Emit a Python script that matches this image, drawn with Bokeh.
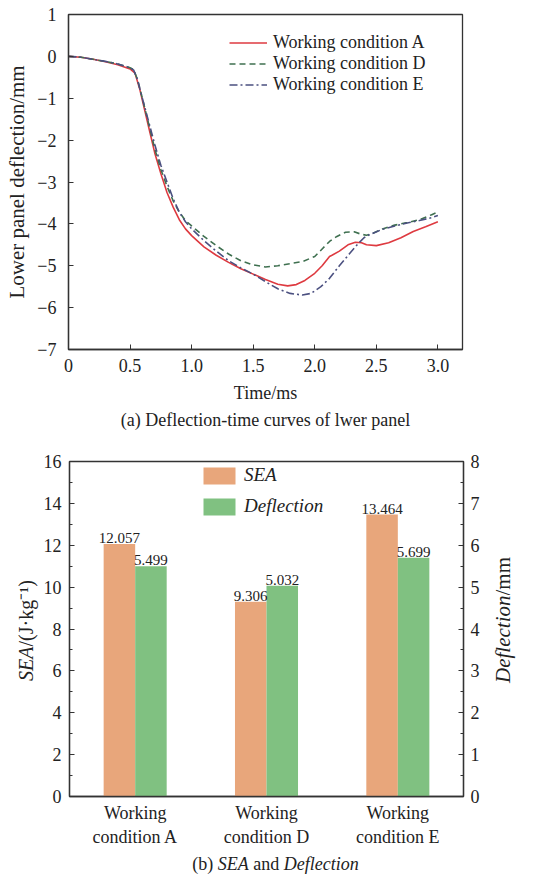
from bokeh.plotting import figure
from bokeh.models import (Range1d, LinearAxis, FixedTicker, Legend, LegendItem,
                          ColumnDataSource, Title)
from bokeh.core.properties import value
from bokeh.layouts import column, row
from bokeh.embed import file_html
from bokeh.resources import INLINE

FONT = "Liberation Serif"

# ---------------- data: (a) deflection-time curves ----------------
t_A = [0, 0.1, 0.2, 0.3, 0.4, 0.5, 0.54, 0.58, 0.62, 0.66, 0.70, 0.75, 0.80, 0.85, 0.90,
       0.95, 1.0, 1.1, 1.2, 1.3, 1.4, 1.5, 1.6, 1.7, 1.78, 1.85, 1.92, 2.0, 2.06, 2.12,
       2.14, 2.2, 2.27, 2.33, 2.38, 2.42, 2.5, 2.6, 2.7, 2.8, 2.9, 3.0]
d_A = [0, -0.02, -0.07, -0.13, -0.2, -0.3, -0.4, -0.8, -1.3, -1.8, -2.3, -2.8, -3.25, -3.6,
       -3.9, -4.12, -4.28, -4.55, -4.75, -4.92, -5.07, -5.2, -5.33, -5.44, -5.48, -5.45,
       -5.35, -5.18, -5.0, -4.78, -4.75, -4.65, -4.5, -4.44, -4.45, -4.5, -4.52, -4.45,
       -4.33, -4.18, -4.07, -3.95]

t_D = [0, 0.1, 0.2, 0.3, 0.4, 0.5, 0.53, 0.56, 0.6, 0.65, 0.7, 0.75, 0.8, 0.85, 0.9, 0.95,
       1.0, 1.1, 1.2, 1.3, 1.4, 1.5, 1.6, 1.7, 1.8, 1.9, 2.0, 2.06, 2.12, 2.18, 2.25, 2.32,
       2.38, 2.42, 2.47, 2.55, 2.65, 2.75, 2.85, 2.95, 3.0]
d_D = [0, -0.02, -0.07, -0.12, -0.18, -0.27, -0.32, -0.55, -1.0, -1.6, -2.2, -2.7, -3.1,
       -3.45, -3.72, -3.92, -4.05, -4.3, -4.52, -4.72, -4.88, -4.98, -5.03, -5.0, -4.95,
       -4.9, -4.78, -4.6, -4.42, -4.3, -4.2, -4.19, -4.25, -4.27, -4.23, -4.12, -4.03,
       -3.97, -3.9, -3.78, -3.72]

t_E = [0, 0.1, 0.2, 0.3, 0.4, 0.5, 0.53, 0.56, 0.6, 0.65, 0.7, 0.75, 0.8, 0.85, 0.9, 0.95,
       1.0, 1.1, 1.2, 1.3, 1.4, 1.5, 1.6, 1.7, 1.8, 1.9, 1.97, 2.05, 2.12, 2.2, 2.28, 2.35,
       2.4, 2.45, 2.55, 2.65, 2.75, 2.85, 2.95, 3.0]
d_E = [0, -0.02, -0.07, -0.12, -0.18, -0.27, -0.33, -0.55, -1.0, -1.55, -2.1, -2.6, -3.0,
       -3.4, -3.72, -3.95, -4.12, -4.4, -4.65, -4.88, -5.05, -5.2, -5.38, -5.55, -5.66,
       -5.7, -5.66, -5.5, -5.3, -5.0, -4.72, -4.48, -4.33, -4.25, -4.13, -4.05, -3.98,
       -3.92, -3.85, -3.8]

series_names = ["Working condition A", "Working condition D", "Working condition E"]
x_ticks_a = [0, 0.5, 1.0, 1.5, 2.0, 2.5, 3.0]
y_ticks_a = [-7, -6, -5, -4, -3, -2, -1, 0, 1]

# ---------------- data: (b) SEA and deflection ----------------
categories = ["Working\ncondition A", "Working\ncondition D", "Working\ncondition E"]
sea_values = [12.057, 9.306, 13.464]
defl_values = [5.499, 5.032, 5.699]
left_ticks_b = [0, 2, 4, 6, 8, 10, 12, 14, 16]
right_ticks_b = [0, 1, 2, 3, 4, 5, 6, 7, 8]

AX = "#333333"
TXT = "#222222"


def style_axis(ax, size="18px"):
    ax.axis_line_color = AX
    ax.axis_line_width = 1.3
    ax.major_tick_line_color = AX
    ax.minor_tick_line_color = AX
    ax.major_label_text_font = FONT
    ax.major_label_text_font_size = size
    ax.major_label_text_color = TXT
    ax.axis_label_text_font = FONT
    ax.axis_label_text_font_style = "normal"
    ax.axis_label_text_color = TXT
    ax.major_tick_out = 0
    ax.minor_tick_out = 0


def text_panel(w, h, border_left=0):
    """A bare figure (no axes, no frame outline) used only to carry title text."""
    f = figure(width=w, height=h, x_range=Range1d(0, 1), y_range=Range1d(0, 1),
               x_axis_type=None, y_axis_type=None, output_backend="svg",
               toolbar_location=None, min_border=0, min_border_left=border_left)
    f.outline_line_color = None
    f.xgrid.visible = False
    f.ygrid.visible = False
    f.background_fill_color = "white"
    f.border_fill_color = "white"
    return f


def side_title(f, text, align, italic=False, size="20px"):
    f.add_layout(Title(text=text, align=align, vertical_align="middle", standoff=0, offset=0,
                       text_font=FONT, text_font_size=size,
                       text_font_style="italic" if italic else "normal",
                       text_color=TXT), "left")


# ================= figure (a) =================
p1 = figure(width=550, height=440, x_range=Range1d(0, 3.2), y_range=Range1d(-7, 1),
            output_backend="svg", toolbar_location=None,
            min_border_left=68, min_border_right=88, min_border_top=14, min_border_bottom=91)
p1.xgrid.visible = False
p1.ygrid.visible = False
p1.outline_line_color = AX
p1.outline_line_width = 1.3
p1.background_fill_color = "white"
p1.border_fill_color = "white"

xa = p1.xaxis[0]
ya = p1.yaxis[0]
style_axis(xa)
style_axis(ya)
xa.ticker = FixedTicker(ticks=x_ticks_a, minor_ticks=[])
ya.ticker = FixedTicker(ticks=y_ticks_a, minor_ticks=[])
xa.major_tick_in = 5
ya.major_tick_in = 5
xa.major_label_overrides = {0: "0", 0.5: "0.5", 1: "1.0", 1.5: "1.5", 2: "2.0", 2.5: "2.5", 3: "3.0"}
ya.major_label_overrides = {v: (str(v) if v >= 0 else "\u2212" + str(-v)) for v in y_ticks_a}
xa.major_label_standoff = 9
ya.major_label_standoff = 12
xa.axis_label = "Time/ms"
xa.axis_label_text_font_size = "18px"
xa.axis_label_standoff = 8
ya.axis_label = "Lower panel deflection/mm"
ya.axis_label_text_font_size = "21px"
ya.axis_label_standoff = 5

rA = p1.line(t_A, d_A, line_color="#de3a40", line_width=1.6)
rD = p1.line(t_D, d_D, line_color="#3f7050", line_width=1.6, line_dash="6 4")
rE = p1.line(t_E, d_E, line_color="#4b5080", line_width=1.6, line_dash="8 3 2 3")

leg1 = Legend(items=[LegendItem(label=series_names[0], renderers=[rA]),
                     LegendItem(label=series_names[1], renderers=[rD]),
                     LegendItem(label=series_names[2], renderers=[rE])],
              location=(161, 254), padding=0, spacing=0, margin=0,
              glyph_width=38, glyph_height=21, label_height=21, label_standoff=6,
              border_line_alpha=0, background_fill_alpha=0,
              label_text_font=FONT, label_text_font_size="18px", label_text_color=TXT)
p1.add_layout(leg1)

p1.add_layout(Title(text="(a) Deflection-time curves of lwer panel", align="center",
                    text_font=FONT, text_font_size="18px", text_font_style="normal",
                    text_color=TXT, standoff=4), "below")

# ================= figure (b) =================
H2 = 409           # page rows 440..849
CAP_H = 877 - 440 - H2
LW2 = 40           # left title strip width
RW2 = 65           # right title strip width
p2 = figure(width=550 - LW2 - RW2, height=H2, x_range=Range1d(0, 3), y_range=Range1d(0, 16),
            output_backend="svg", toolbar_location=None,
            min_border_left=67 - LW2, min_border_right=(550 - RW2) - 463,
            min_border_top=21, min_border_bottom=50)
p2.xgrid.visible = False
p2.ygrid.visible = False
p2.outline_line_color = AX
p2.outline_line_width = 1.3
p2.background_fill_color = "white"
p2.border_fill_color = "white"
p2.extra_y_ranges = {"defl": Range1d(0, 8)}

xb = p2.xaxis[0]
yb = p2.yaxis[0]
style_axis(xb)
style_axis(yb)
cat_x = [0.5, 1.5, 2.5]
xb.ticker = FixedTicker(ticks=cat_x, minor_ticks=[])
xb.major_tick_in = 0
xb.major_label_overrides = {c: lab for c, lab in zip(cat_x, categories)}
xb.major_label_standoff = 6
yb.ticker = FixedTicker(ticks=left_ticks_b, minor_ticks=[1, 3, 5, 7, 9, 11, 13, 15])
yb.major_tick_in = 5
yb.minor_tick_in = 3
yb.major_label_standoff = 8
yb.axis_label = None

rax = LinearAxis(y_range_name="defl")
style_axis(rax)
rax.ticker = FixedTicker(ticks=right_ticks_b, minor_ticks=[0.5, 1.5, 2.5, 3.5, 4.5, 5.5, 6.5, 7.5])
rax.major_tick_in = 5
rax.minor_tick_in = 3
rax.major_label_standoff = 7
p2.add_layout(rax, "right")

bw = 0.24
src_sea = ColumnDataSource(dict(x=[c - bw / 2 for c in cat_x], top=sea_values,
                                lab=[f"{v:.3f}" for v in sea_values]))
src_defl = ColumnDataSource(dict(x=[c + bw / 2 for c in cat_x], top=defl_values,
                                 lab=[f"{v:.3f}" for v in defl_values]))
b1 = p2.vbar(x="x", top="top", width=bw, bottom=0, source=src_sea,
             fill_color="#e8a67b", line_color=None)
b2 = p2.vbar(x="x", top="top", width=bw, bottom=0, source=src_defl, y_range_name="defl",
             fill_color="#80c181", line_color=None)
p2.text(x="x", y="top", text="lab", source=src_sea, text_align="center",
        text_baseline="bottom", y_offset=-1, text_font=value(FONT),
        text_font_size="15px", text_color=TXT)
p2.text(x="x", y="top", text="lab", source=src_defl, y_range_name="defl",
        text_align="center", text_baseline="bottom", y_offset=-1,
        text_font=value(FONT), text_font_size="15px", text_color=TXT)

leg2 = Legend(items=[LegendItem(label="SEA", renderers=[b1]),
                     LegendItem(label="Deflection", renderers=[b2])],
              location=(130, 279), padding=0, spacing=9, margin=0,
              glyph_width=40, glyph_height=21, label_height=21, label_standoff=5,
              border_line_alpha=0, background_fill_alpha=0,
              label_text_font=FONT, label_text_font_style="italic",
              label_text_font_size="19px", label_text_color=TXT)
p2.add_layout(leg2)

# left axis title "SEA/(J·kg⁻¹)": two stacked strips meeting at page row 646
JL = 646 - 440
pL2u = text_panel(LW2, JL, border_left=37)
side_title(pL2u, "/(J\u00b7kg\u207b\u00b9)", "left")
pL2d = text_panel(LW2, H2 - JL, border_left=37)
side_title(pL2d, "SEA", "right", italic=True)

# right axis title "Deflection/mm": two stacked strips meeting at page row 595
JR = 595 - 440
pR2u = text_panel(RW2, JR, border_left=30)
side_title(pR2u, "/mm", "left", size="21px")
pR2d = text_panel(RW2, H2 - JR, border_left=30)
side_title(pR2d, "Deflection", "right", italic=True, size="21px")

# caption (b) SEA and Deflection
pC = figure(width=550, height=CAP_H, x_range=Range1d(0, 550), y_range=Range1d(0, CAP_H),
            x_axis_type=None, y_axis_type=None, output_backend="svg",
            toolbar_location=None, min_border=0)
pC.outline_line_color = None
pC.xgrid.visible = False
pC.ygrid.visible = False
cap_x = [191.7, 217.2, 252.7, 283.2]
cap_t = ["(b)", "SEA", "and", "Deflection"]
cap_s = ["normal", "italic", "normal", "italic"]
for cx, ct, cs in zip(cap_x, cap_t, cap_s):
    pC.text(x=[cx], y=[CAP_H - 14], text=[ct], text_align="left", text_baseline="middle",
            text_font=value(FONT), text_font_size="18px", text_font_style=cs,
            text_color=TXT)

layout = column(row(p1, spacing=0),
                row(column(pL2u, pL2d, spacing=0), p2, column(pR2u, pR2d, spacing=0),
                    spacing=0),
                row(pC, spacing=0), spacing=0)
open("out.html", "w").write(file_html(layout, INLINE))
